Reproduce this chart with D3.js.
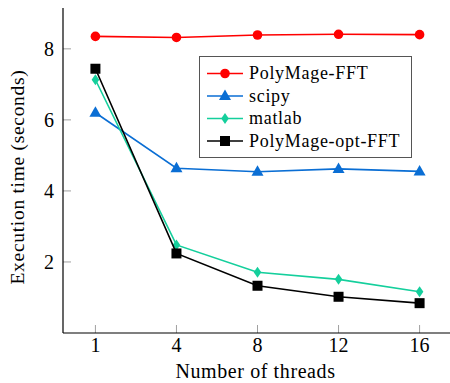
<!DOCTYPE html>
<html>
<head>
<meta charset="utf-8">
<script src="https://cdn.jsdelivr.net/npm/d3@7"></script>
<style>
  body { margin: 0; background: #fff; }
  svg { display: block; font-family: 'Liberation Serif', serif; }
</style>
</head>
<body>
<div id="chart"></div>
<script>
const threads = ['1', '4', '8', '12', '16'];
const yTicks = [2, 4, 6, 8];
const polymageFFT = [8.35, 8.32, 8.39, 8.41, 8.40];
const scipy = [6.20, 4.64, 4.54, 4.62, 4.55];
const matlab = [7.13, 2.48, 1.71, 1.51, 1.16];
const polymageOptFFT = [7.44, 2.24, 1.33, 1.02, 0.84];

const seriesNames = ['PolyMage-FFT', 'scipy', 'matlab', 'PolyMage-opt-FFT'];
const seriesValues = [polymageFFT, scipy, matlab, polymageOptFFT];
const seriesColors = ['#ff0000', '#0a6ed4', '#14cf9c', '#000000'];
const seriesMarks = ['circle', 'triangle', 'diamond', 'square'];

const width = 450;
const height = 383;
const margin = {top: 8, right: -2, bottom: 50, left: 63};

const svg = d3.select('#chart').append('svg')
  .attr('width', width)
  .attr('height', height);

const x = d3.scalePoint()
  .domain(threads)
  .range([margin.left, width - margin.right])
  .padding(0.4);

const y = d3.scaleLinear()
  .domain([0, 9.15])
  .range([height - margin.bottom, margin.top]);

const x0 = margin.left;
const y0 = height - margin.bottom;

// ticks (inward, grey)
svg.append('g')
  .selectAll('line')
  .data(threads)
  .enter().append('line')
  .attr('x1', (d) => x(d))
  .attr('x2', (d) => x(d))
  .attr('y1', y0)
  .attr('y2', y0 - 8)
  .style('stroke', '#a0a0a0')
  .style('stroke-width', '1px');

svg.append('g')
  .selectAll('line')
  .data(yTicks)
  .enter().append('line')
  .attr('x1', x0)
  .attr('x2', x0 + 8)
  .attr('y1', (d) => y(d))
  .attr('y2', (d) => y(d))
  .style('stroke', '#a0a0a0')
  .style('stroke-width', '1px');

// axis lines
svg.append('line')
  .attr('x1', x0).attr('x2', x0)
  .attr('y1', margin.top).attr('y2', y0)
  .style('stroke', '#000').style('stroke-width', '1.2px');

svg.append('line')
  .attr('x1', x0).attr('x2', width)
  .attr('y1', y0).attr('y2', y0)
  .style('stroke', '#000').style('stroke-width', '1.2px');

// tick labels
svg.append('g')
  .selectAll('text')
  .data(threads)
  .enter().append('text')
  .attr('x', (d) => x(d))
  .attr('y', y0 + 19)
  .attr('text-anchor', 'middle')
  .style('font-size', '20px')
  .text((d) => d);

svg.append('g')
  .selectAll('text')
  .data(yTicks)
  .enter().append('text')
  .attr('x', x0 - 9)
  .attr('y', (d) => y(d))
  .attr('dy', '0.34em')
  .attr('text-anchor', 'end')
  .style('font-size', '20px')
  .text((d) => d);

// axis labels
svg.append('text')
  .attr('x', (x0 + width) / 2 - 1)
  .attr('y', y0 + 45)
  .attr('text-anchor', 'middle')
  .style('font-size', '20px')
  .style('letter-spacing', '0.6px')
  .text('Number of threads');

svg.append('text')
  .attr('transform', 'translate(24,' + 177 + ') rotate(-90)')
  .attr('text-anchor', 'middle')
  .style('font-size', '19.5px')
  .style('letter-spacing', '0.7px')
  .text('Execution time (seconds)');

function drawMark(g, kind, color, cx, cy) {
  if (kind === 'circle') {
    g.append('circle').attr('cx', cx).attr('cy', cy).attr('r', 4.8).style('fill', color);
  } else if (kind === 'square') {
    g.append('rect').attr('x', cx - 5).attr('y', cy - 5).attr('width', 10).attr('height', 10).style('fill', color);
  } else if (kind === 'triangle') {
    g.append('path')
      .attr('d', 'M' + cx + ',' + (cy - 6.5) + 'L' + (cx + 6) + ',' + (cy + 4) + 'L' + (cx - 6) + ',' + (cy + 4) + 'Z')
      .style('fill', color);
  } else {
    g.append('path')
      .attr('d', 'M' + cx + ',' + (cy - 5.5) + 'L' + (cx + 3.8) + ',' + cy + 'L' + cx + ',' + (cy + 5.5) + 'L' + (cx - 3.8) + ',' + cy + 'Z')
      .style('fill', color);
  }
}

const line = d3.line()
  .x((d, i) => x(threads[i]))
  .y((d) => y(d));

seriesValues.forEach((vals, s) => {
  const g = svg.append('g');
  g.append('path')
    .datum(vals)
    .attr('d', line)
    .style('fill', 'none')
    .style('stroke', seriesColors[s])
    .style('stroke-width', '1.6px');
  vals.forEach((v, i) => drawMark(g, seriesMarks[s], seriesColors[s], x(threads[i]), y(v)));
});

// legend
const legend = svg.append('g');
legend.append('rect')
  .attr('x', 199.5)
  .attr('y', 56.5)
  .attr('width', 212)
  .attr('height', 101)
  .style('fill', '#fff')
  .style('stroke', '#555')
  .style('stroke-width', '1px');

seriesNames.forEach((name, s) => {
  const ly = 73.5 + s * 22.5;
  legend.append('line')
    .attr('x1', 207).attr('x2', 243)
    .attr('y1', ly).attr('y2', ly)
    .style('stroke', seriesColors[s])
    .style('stroke-width', '1.6px');
  drawMark(legend, seriesMarks[s], seriesColors[s], 225, ly);
  legend.append('text')
    .attr('x', 249)
    .attr('y', ly)
    .attr('dy', '0.33em')
    .style('font-size', '18px')
    .style('letter-spacing', '0.7px')
    .text(name);
});
</script>
</body>
</html>
